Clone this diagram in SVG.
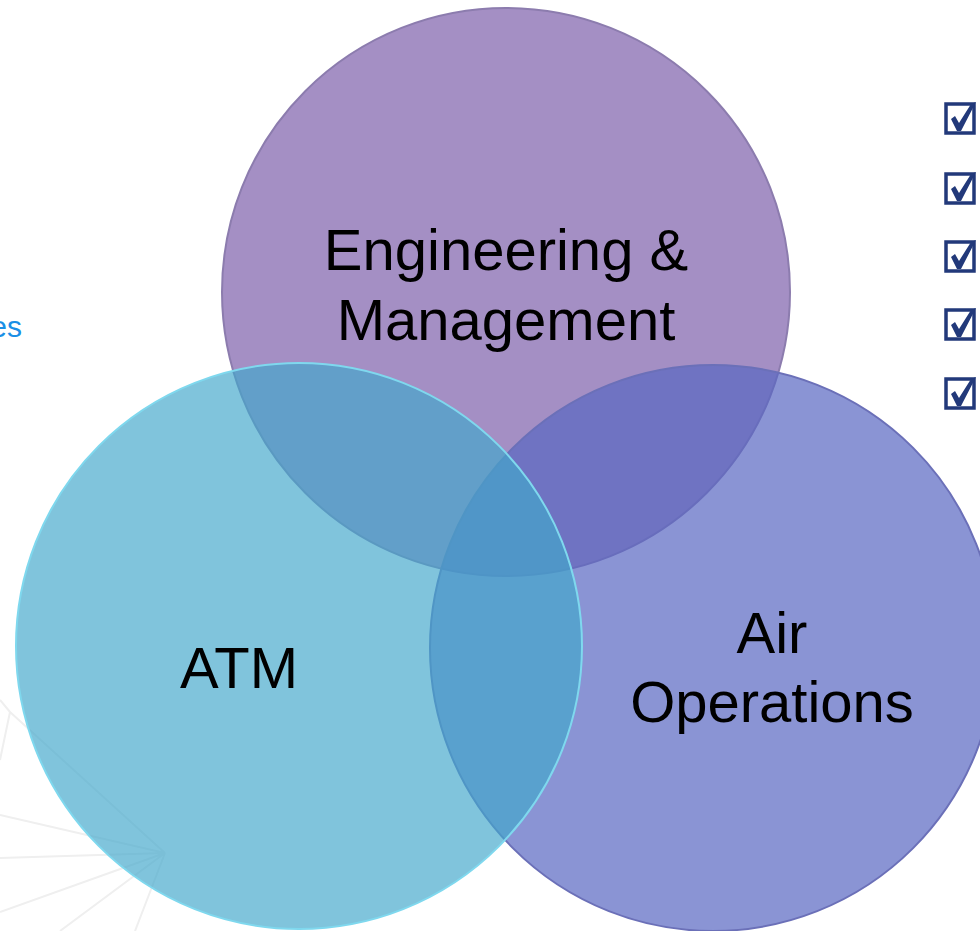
<svg xmlns="http://www.w3.org/2000/svg" width="980" height="931" viewBox="0 0 980 931">
<style>
.lbl{font-family:"Liberation Sans",Arial,sans-serif;font-size:58px;fill:#000;text-anchor:middle}
.bg{stroke:#efefef;stroke-width:2;fill:none}
</style>
<defs>
<g id="checkbox">
<rect x="2" y="2" width="28" height="29" fill="none" stroke="#22397a" stroke-width="3.5"/>
<path d="M7,17 L11,14 L15,21 L27,2 L32,0 L17,29 L13,29 Z" fill="#22397a"/>
</g>
</defs>
<rect width="980" height="931" fill="#ffffff"/>
<g id="background-lines">
<path class="bg" d="M165,853 L0,858 M165,853 L0,815 M165,853 L10,712 M10,712 L0,700 M165,853 L0,912 M165,853 L60,931 M165,853 L135,931 M10,712 L0,760"/>
</g>
<g id="side-text">
<text x="22" y="337" font-family="Liberation Sans,Arial,sans-serif" font-size="30" fill="#1a8fe6" text-anchor="end">es</text>
</g>
<g id="checkboxes">
<use href="#checkbox" x="944" y="102"/>
<use href="#checkbox" x="944" y="172"/>
<use href="#checkbox" x="944" y="240"/>
<use href="#checkbox" x="944" y="308"/>
<use href="#checkbox" x="944" y="377"/>
</g>
<g id="engineering">
<circle cx="506" cy="292" r="284" fill="#a48fc4" stroke="#8c7cae" stroke-width="2"/>
<text class="lbl" x="506" y="270">Engineering &amp;</text>
<text class="lbl" x="506" y="340">Management</text>
</g>
<g id="air-operations">
<circle cx="713" cy="648" r="283" fill="#5866c2" fill-opacity="0.7" stroke="#6b70b8" stroke-width="2"/>
<text class="lbl" x="772" y="653">Air</text>
<text class="lbl" x="772" y="722">Operations</text>
</g>
<g id="atm">
<circle cx="299" cy="646" r="283" fill="#42a7cb" fill-opacity="0.67" stroke="#7fd8ee" stroke-width="2"/>
<text class="lbl" x="239" y="688">ATM</text>
</g>
<g id="connectors"></g>
</svg>
